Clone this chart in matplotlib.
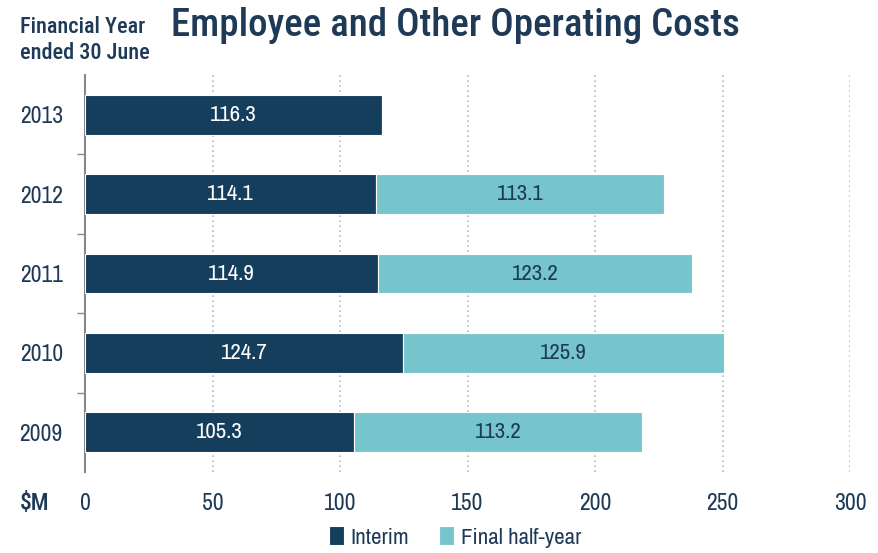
import numpy as np
import matplotlib
matplotlib.use('Agg')
import matplotlib.pyplot as plt
from matplotlib.ticker import FixedLocator

plt.rcParams['font.family'] = ['Archivo Narrow', 'Roboto Condensed', 'DejaVu Sans']
head_font = ['Roboto Condensed', 'DejaVu Sans']

# Data
years = ['2013', '2012', '2011', '2010', '2009']
interim = [116.3, 114.1, 114.9, 124.7, 105.3]
final_half = [0, 113.1, 123.2, 125.9, 113.2]
x_ticks = [0, 50, 100, 150, 200, 250, 300]

dark = '#153D5C'
light = '#77C5CC'
text_col = '#1F3A57'

fig = plt.figure(figsize=(8.79, 5.53), dpi=100)
ax = fig.add_axes([85 / 879, 81 / 553, 765 / 879, 397 / 553])

y = np.arange(len(years))
h = 0.5
ax.barh(y, interim, height=h, color=dark, edgecolor='white', linewidth=0.8, label='Interim', zorder=3)
ax.barh(y, final_half, left=interim, height=h, color=light, edgecolor='white', linewidth=0.8,
        label='Final half-year', zorder=3)

# Value labels
for i in range(len(years)):
    ax.text(interim[i] / 2, y[i], f'{interim[i]:.1f}', ha='center', va='center',
            color='white', fontsize=16.5, zorder=4)
    if final_half[i] > 0:
        ax.text(interim[i] + final_half[i] / 2, y[i], f'{final_half[i]:.1f}', ha='center', va='center',
                color=text_col, fontsize=16.5, zorder=4)

ax.set_xlim(0, 300)
ax.set_ylim(len(years) - 0.5, -0.5)
ax.set_xticks(x_ticks)
ax.set_yticks(y)
ax.set_yticklabels(years)
ax.yaxis.set_minor_locator(FixedLocator(np.arange(0.5, len(years) - 1, 1.0)))
ax.tick_params(axis='y', which='major', length=0, pad=16, labelsize=17, labelcolor=text_col)
ax.tick_params(axis='y', which='minor', length=6, color='#888888', width=1)
ax.tick_params(axis='x', length=0, pad=15, labelsize=17, labelcolor=text_col)

for s in ['top', 'right', 'bottom']:
    ax.spines[s].set_visible(False)
ax.spines['left'].set_color('#888888')
ax.spines['left'].set_linewidth(1.5)

ax.xaxis.grid(True, linestyle=(0, (1, 2)), color='#BBBBBB', linewidth=1.2, zorder=0)
ax.set_axisbelow(True)

fig.text(35 / 879, 1 - 503 / 553, '$M', ha='center', va='center', fontsize=17,
         fontweight='medium', color=text_col, family=head_font)
fig.text(20 / 879, 1 - 40 / 553, 'Financial Year\nended 30 June', ha='left', va='center',
         fontsize=16, fontweight='medium', color=text_col, linespacing=1.25, family=head_font)
fig.text(455 / 879, 1 - 25 / 553, 'Employee and Other Operating Costs', ha='center', va='center',
         fontsize=28, fontweight='medium', color=text_col, family=head_font)

fig.legend(loc='center', bbox_to_anchor=(455 / 879, 1 - 537 / 553), ncol=2, frameon=False,
           fontsize=16.5, handlelength=0.65, handleheight=0.9, handletextpad=0.3, columnspacing=1.3,
           labelcolor=text_col)

fig.savefig('out.png', dpi=100)
